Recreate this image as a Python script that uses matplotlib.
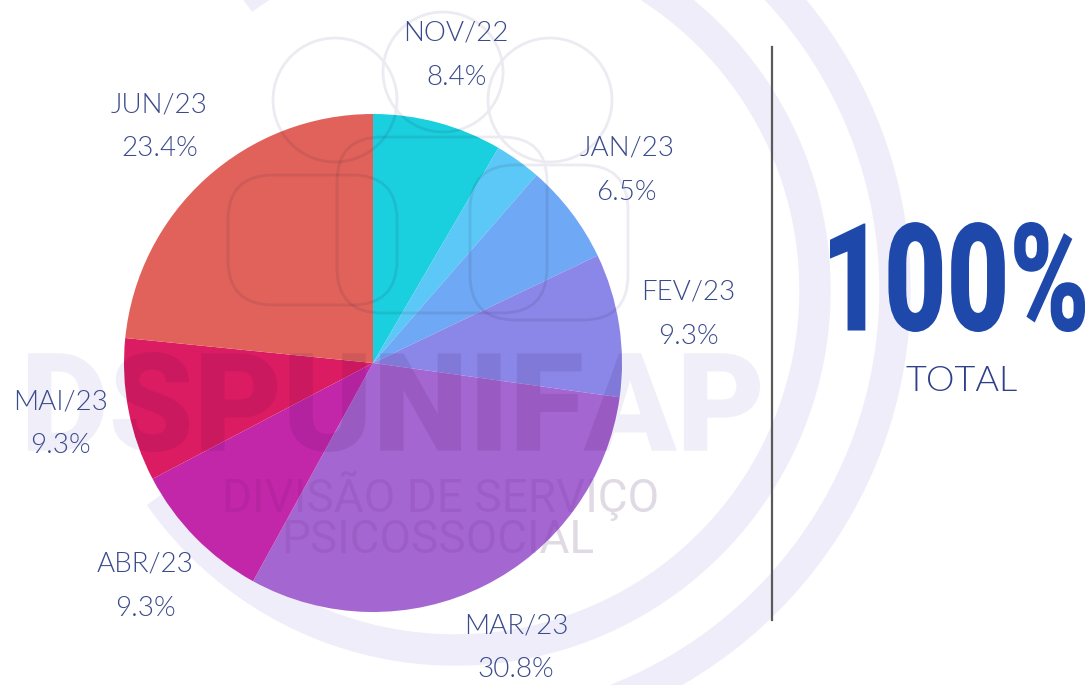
import matplotlib
matplotlib.use('Agg')
import matplotlib.pyplot as plt
from matplotlib.textpath import TextPath
from matplotlib.font_manager import FontProperties
from matplotlib.patches import PathPatch, Wedge, Circle, FancyBboxPatch
from matplotlib.transforms import Affine2D

W, H = 1091, 685

# dados
meses = ['NOV/22', 'DEZ/22', 'JAN/23', 'FEV/23', 'MAR/23', 'ABR/23', 'MAI/23', 'JUN/23']
percentuais = [8.4, 3.0, 6.5, 9.3, 30.8, 9.3, 9.3, 23.4]
mostrar = [True, False, True, True, True, True, True, True]
cores = ['#1acfde', '#5bc8f7', '#6fa8f4', '#8a87e8', '#a466d0', '#c127a8', '#dc1c62', '#e0625a']

rotulos = [f'{m}\n{p:.1f}%' if s else '' for m, p, s in zip(meses, percentuais, mostrar)]

azul_txt = '#3a4a8c'
fonte_rot = ['Lato', 'DejaVu Sans']
centro = (373, 685 - 363)
raio = 249


def py(y):
    # pixel (de cima) -> coordenada do eixo
    return H - y


def texto_caixa(ax, s, x0, y0, x1, y1, prop, **kw):
    tp = TextPath((0, 0), s, size=100, prop=prop)
    ext = tp.get_extents()
    tr = Affine2D().translate(-ext.x0, -ext.y0).scale((x1 - x0) / ext.width, (y1 - y0) / ext.height).translate(x0, y0)
    p = PathPatch(tr.transform_path(tp), **kw)
    ax.add_patch(p)
    return p


fig = plt.figure(figsize=(W / 100, H / 100), dpi=100)
ax = fig.add_axes([0, 0, 1, 1])

# marca d'agua - aneis
cor_anel = '#efedf9'
ax.add_patch(Wedge((455, py(290)), 375, -145, 126, width=30, color=cor_anel, zorder=0))
ax.add_patch(Wedge((455, py(290)), 455, -100, 60, width=30, color=cor_anel, zorder=0))

# pizza
wedges, texts = ax.pie(percentuais, labels=rotulos, colors=cores, startangle=90, counterclock=False,
                       center=centro, radius=raio, labeldistance=1.28,
                       wedgeprops=dict(linewidth=0, zorder=2),
                       textprops=dict(fontsize=20, color=azul_txt, family=fonte_rot, weight=300))
for t in texts:
    t.set_ha('center')
    t.set_va('center')
    t.set_linespacing(1.95)

recorte = Circle(centro, raio, transform=ax.transData)


def marca(clip):
    # fora da pizza: claro, por baixo; dentro: escurece a fatia
    if clip:
        cc, ca, z = '#3a0050', 0.10, 3
        ct, ta = '#3a0050', 0.07
        cl, la = '#2a2040', 0.10
    else:
        cc, ca, z = '#f0eef8', 1.0, 1
        ct, ta = '#ecebf0', 1.0
        cl, la = '#ecebf1', 1.0
    arts = []
    arts.append(texto_caixa(ax, 'DSPUNIFAP', 28, py(452), 760, py(352),
                            FontProperties(family='Roboto', weight='black'),
                            fc=cc, ec='none', alpha=ca, zorder=z))
    arts.append(ax.text(441, py(512), 'DIVISÃO DE SERVIÇO', ha='center', va='baseline', fontsize=33,
                        family=['Roboto', 'DejaVu Sans'], color=ct, alpha=ta, zorder=z))
    arts.append(ax.text(438, py(553), 'PSICOSSOCIAL', ha='center', va='baseline', fontsize=33,
                        family=['Roboto', 'DejaVu Sans'], color=ct, alpha=ta, zorder=z))
    for cx, cy, r in [(335, 100, 62), (443, 72, 60), (550, 100, 62)]:
        arts.append(ax.add_patch(Circle((cx, py(cy)), r, fill=False, ec=cl, lw=2, alpha=la, zorder=z)))
    for x0, y0, x1, y1 in [(228, 175, 397, 305), (337, 137, 547, 313), (470, 165, 628, 320)]:
        arts.append(ax.add_patch(FancyBboxPatch((x0, py(y1)), x1 - x0, y1 - y0,
                                                boxstyle='round,pad=0,rounding_size=45',
                                                fill=False, ec=cl, lw=2, alpha=la, zorder=z)))
    if clip:
        for a in arts:
            a.set_clip_path(recorte)


marca(False)
marca(True)

# divisoria
ax.plot([772, 772], [py(47), py(620)], color='#5a5a5a', lw=1.6, zorder=5)

# total
texto_caixa(ax, '100%', 830, py(332), 1085, py(222),
            FontProperties(family='Roboto', weight='black'), fc='#1e48aa', ec='none', zorder=5)
ax.text(962, py(381), 'TOTAL', ha='center', va='center', fontsize=26, color='#2f3f8a',
        family=fonte_rot, weight=300, zorder=5)

ax.set_xlim(0, W)
ax.set_ylim(0, H)
ax.set_aspect('equal')
ax.axis('off')

fig.savefig('out.png', dpi=100, facecolor='white')
